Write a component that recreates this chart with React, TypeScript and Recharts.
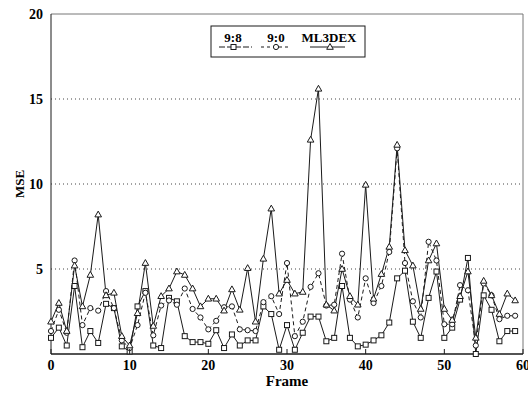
import { LineChart, Line, XAxis, YAxis, ReferenceLine } from "recharts";

const frames = [
  0, 1, 2, 3, 4, 5, 6, 7, 8, 9, 10, 11, 12, 13, 14, 15, 16, 17, 18, 19,
  20, 21, 22, 23, 24, 25, 26, 27, 28, 29, 30, 31, 32, 33, 34, 35, 36, 37, 38, 39,
  40, 41, 42, 43, 44, 45, 46, 47, 48, 49, 50, 51, 52, 53, 54, 55, 56, 57, 58, 59,
];

// 9:8 (squares, solid)
const mse98 = [
  0.95, 1.55, 0.5, 4.0, 0.4, 1.35, 0.65, 2.95, 2.7, 0.45,
  0.15, 2.8, 3.7, 0.5, 0.35, 3.3, 3.1, 1.05, 0.7, 0.7,
  0.6, 1.4, 0.35, 1.15, 0.5, 0.8, 0.8, 2.8, 2.35, 0.25,
  1.7, 0.25, 1.25, 2.2, 2.2, 0.75, 0.95, 4.0, 0.95, 0.45,
  0.55, 0.8, 1.1, 1.85, 4.45, 4.9, 1.9, 0.95, 3.3, 4.85,
  0.95, 1.55, 3.2, 5.65, 0.0, 3.45, 2.6, 0.75, 1.35, 1.35,
];

// 9:0 (circles, dashed)
const mse90 = [
  1.35, 2.6, 1.25, 5.5, 1.7, 2.7, 2.55, 3.7, 2.7, 0.8,
  0.35, 1.7, 3.6, 1.1, 2.85, 3.15, 2.9, 3.85, 2.65, 2.15,
  1.45, 1.95, 2.75, 2.8, 1.45, 1.4, 1.35, 3.05, 3.4, 2.35,
  5.35, 1.05, 1.9, 3.95, 4.75, 2.85, 2.9, 5.9, 3.2, 2.15,
  4.45, 3.0, 4.0, 6.0, 12.1, 5.35, 3.1, 2.15, 6.6, 5.5,
  1.75, 1.75, 4.05, 3.75, 0.5, 4.15, 3.45, 2.05, 2.25, 2.25,
];

// ML3DEX (triangles, solid)
const mseMl3dex = [
  1.9, 3.0, 1.35, 5.2, 2.8, 4.65, 8.2, 3.45, 3.6, 1.05,
  0.5, 2.4, 5.35, 1.65, 3.4, 3.85, 4.85, 4.65, 3.85, 2.8,
  3.25, 3.25, 2.55, 3.8, 2.6, 5.05, 1.9, 5.6, 8.55, 3.55,
  4.35, 3.55, 3.65, 12.6, 15.6, 2.9, 2.55, 5.0, 3.4, 2.9,
  9.95, 3.25, 4.7, 6.3, 12.3, 6.1, 5.2, 2.65, 5.5, 6.5,
  2.65, 2.0, 3.4, 4.85, 0.95, 4.3, 3.45, 2.35, 3.55, 3.15,
];

const xTicks = [0, 10, 20, 30, 40, 50, 60];
const yTicks = [0, 5, 10, 15, 20];
const gridLevels = [5, 10, 15];

const data = frames.map((f, i) => ({
  frame: f,
  s98: mse98[i],
  s90: mse90[i],
  ml3dex: mseMl3dex[i],
}));

const FONT = "'Liberation Serif', 'Times New Roman', serif";
const INK = "#1a1a1a";

const SquareDot = (props: any) => {
  const { cx, cy, index } = props;
  if (cx == null || cy == null) return null;
  return <rect key={`sq-${index}`} x={cx - 2.5} y={cy - 2.5} width={5} height={5} fill="#fff" stroke={INK} strokeWidth={1} />;
};

const CircleDot = (props: any) => {
  const { cx, cy, index } = props;
  if (cx == null || cy == null) return null;
  return <circle key={`ci-${index}`} cx={cx} cy={cy} r={2.6} fill="#fff" stroke={INK} strokeWidth={1} />;
};

const TriangleDot = (props: any) => {
  const { cx, cy, index } = props;
  if (cx == null || cy == null) return null;
  return (
    <polygon
      key={`tr-${index}`}
      points={`${cx},${cy - 3.5} ${cx - 3.3},${cy + 2.3} ${cx + 3.3},${cy + 2.3}`}
      fill="#fff"
      stroke={INK}
      strokeWidth={1}
    />
  );
};

const XTick = ({ x, y, payload }: any) => (
  <g>
    <line x1={x} x2={x} y1={y} y2={y - 5} stroke={INK} />
    <text x={x} y={y + 16} textAnchor="middle" fontFamily={FONT} fontWeight="bold" fontSize={14} fill="#000">
      {payload.value}
    </text>
  </g>
);

const YTick = ({ x, y, payload }: any) => {
  if (payload.value === 0) return null;
  return (
    <text x={x - 8} y={y + 5} textAnchor="end" fontFamily={FONT} fontWeight="bold" fontSize={14} fill="#000">
      {payload.value}
    </text>
  );
};

const LegendBox = () => (
  <svg width={528} height={393} style={{ position: "absolute", left: 0, top: 0, pointerEvents: "none" }}>
    <rect x={211} y={26} width={154} height={31} fill="#fff" stroke={INK} strokeWidth={1} />
    <g fontFamily={FONT} fontWeight="bold" fontSize={13} fill="#000" textAnchor="middle">
      <text x={233} y={42}>9:8</text>
      <text x={276} y={42}>9:0</text>
      <text x={329} y={42}>ML3DEX</text>
    </g>
    <line x1={219} x2={252} y1={47} y2={47} stroke={INK} strokeDasharray="6 2" />
    <rect x={231} y={44.5} width={5} height={5} fill="#fff" stroke={INK} />
    <line x1={261} x2={290} y1={47} y2={47} stroke={INK} strokeDasharray="3 3" />
    <circle cx={276} cy={47} r={2.6} fill="#fff" stroke={INK} />
    <line x1={310} x2={345} y1={47} y2={47} stroke={INK} />
    <polygon points="330,43.5 326.7,49.3 333.3,49.3" fill="#fff" stroke={INK} />
  </svg>
);

export default function App() {
  return (
    <div style={{ position: "absolute", left: 0, top: 0, width: 528, height: 393, background: "#fff" }}>
      <LineChart width={528} height={393} data={data} margin={{ top: 14, right: 5, bottom: 0, left: 1 }}>
        {gridLevels.map((v) => (
          <ReferenceLine key={`g-${v}`} y={v} stroke="#444" strokeDasharray="1 3" />
        ))}
        <ReferenceLine y={20} stroke="#777" />
        <ReferenceLine x={60} stroke="#777" />
        <XAxis
          dataKey="frame"
          type="number"
          domain={[0, 60]}
          ticks={xTicks}
          interval={0}
          height={39}
          tickSize={0}
          tickMargin={0}
          tick={<XTick />}
          axisLine={{ stroke: INK, strokeWidth: 1.5 }}
          label={{ value: "Frame", position: "insideBottom", offset: 7, style: { fontFamily: FONT, fontWeight: "bold", fontSize: 15, fill: "#000" } }}
        />
        <YAxis
          type="number"
          domain={[0, 20]}
          ticks={yTicks}
          interval={0}
          width={50}
          tickSize={0}
          tickMargin={0}
          tick={<YTick />}
          axisLine={{ stroke: INK, strokeWidth: 1 }}
          label={{ value: "MSE", angle: -90, position: "insideLeft", offset: 18, style: { fontFamily: FONT, fontWeight: "bold", fontSize: 13, fill: "#000", textAnchor: "middle" } }}
        />
        <Line dataKey="s98" stroke={INK} strokeWidth={1} dot={SquareDot} activeDot={false} isAnimationActive={false} />
        <Line dataKey="s90" stroke={INK} strokeWidth={1} strokeDasharray="4 3" dot={CircleDot} activeDot={false} isAnimationActive={false} />
        <Line dataKey="ml3dex" stroke={INK} strokeWidth={1} dot={TriangleDot} activeDot={false} isAnimationActive={false} />
      </LineChart>
      <LegendBox />
    </div>
  );
}
